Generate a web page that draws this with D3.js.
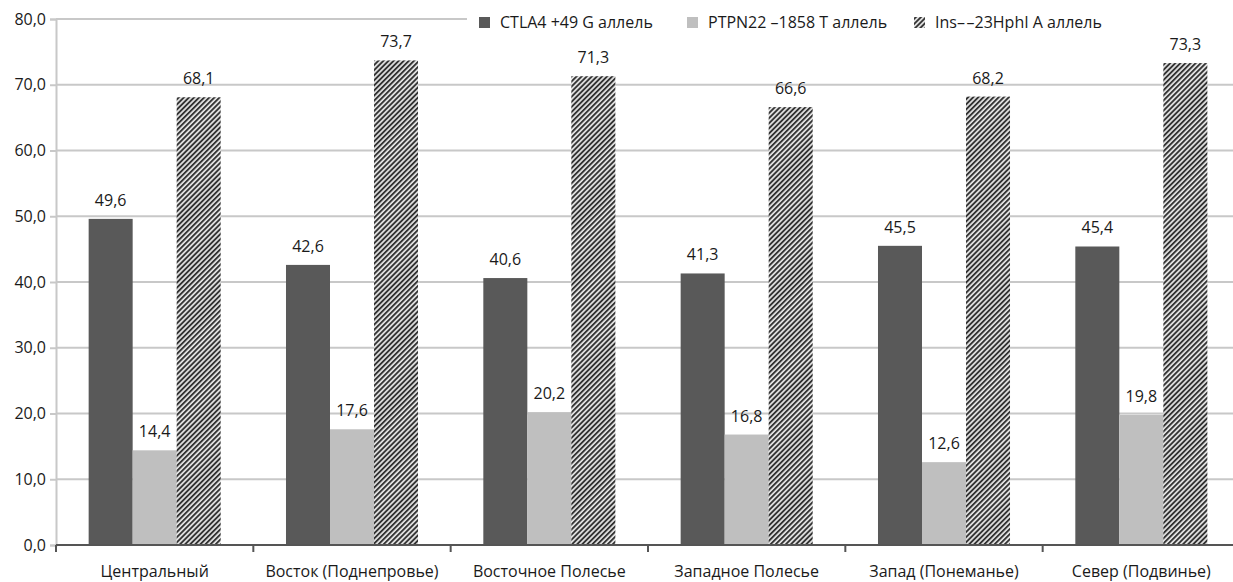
<!DOCTYPE html>
<html><head><meta charset="utf-8">
<script src="https://cdn.jsdelivr.net/npm/d3@7"></script>
<style>body{margin:0;background:#fff}svg{display:block}</style>
</head><body><svg id="c" width="1233" height="582"></svg>
<script>
const categories = ["Центральный","Восток (Поднепровье)","Восточное Полесье","Западное Полесье","Запад (Понеманье)","Север (Подвинье)"];
const seriesNames = ["CTLA4 +49 G аллель","PTPN22 –1858 T аллель","Ins–\u200A–23HphI A аллель"];
const ctla4 = [49.6,42.6,40.6,41.3,45.5,45.4];
const ptpn22 = [14.4,17.6,20.2,16.8,12.6,19.8];
const ins = [68.1,73.7,71.3,66.6,68.2,73.3];
const yTicks = [0,10,20,30,40,50,60,70,80];

const series = [ctla4, ptpn22, ins];
const svg = d3.select("#c");
const font = "'Open Sans', sans-serif";
const mLeft = 56, mRight = 1240, mTop = 19, mBottom = 545;

const defs = svg.append("defs");
const pat = defs.append("pattern").attr("id","hatch").attr("patternUnits","userSpaceOnUse")
  .attr("width",3.6).attr("height",3.6).attr("patternTransform","rotate(45)");
pat.append("rect").attr("width",3.6).attr("height",3.6).attr("fill","#e6e6e6");
pat.append("rect").attr("width",1.9).attr("height",3.6).attr("fill","#333");

const x = d3.scaleBand().domain(categories).range([mLeft,mRight]).paddingInner(0).paddingOuter(0);
const xs = d3.scaleBand().domain([0,1,2]).range([0,x.bandwidth()]).paddingInner(0).paddingOuter(0.742);
const y = d3.scaleLinear().domain([0,80]).range([mBottom,mTop]);

// gridlines
svg.append("g").selectAll("line").data(yTicks.filter(d=>d>0)).join("line")
  .attr("x1",mLeft).attr("x2",mRight).attr("y1",d=>y(d)).attr("y2",d=>y(d))
  .attr("stroke","#c8c8c8").attr("stroke-width",2);

// y axis
const yAxis = svg.append("g").attr("transform",`translate(${mLeft},0)`)
  .call(d3.axisLeft(y).tickValues(yTicks).tickSize(6).tickPadding(4).tickFormat(d=>d3.format(".1f")(d).replace(".",",")));
yAxis.select(".domain").attr("stroke","#c8c8c8").attr("stroke-width",2);
yAxis.selectAll(".tick line").attr("stroke","#c8c8c8").attr("stroke-width",2);
yAxis.selectAll("text").attr("font-family",font).attr("font-size",16).attr("fill","#1a1a1a");

const fills = ["#595959","#bfbfbf","url(#hatch)"];
const g = svg.append("g");
series.forEach((vals,si)=>{
  g.selectAll(null).data(vals).join("rect")
    .attr("x",(d,i)=>x(categories[i])+xs(si))
    .attr("width",xs.bandwidth())
    .attr("y",d=>y(d)).attr("height",d=>y(0)-y(d))
    .attr("fill",fills[si]);
  g.selectAll(null).data(vals).join("text")
    .attr("x",(d,i)=>x(categories[i])+xs(si)+xs.bandwidth()/2)
    .attr("y",d=>y(d)-13)
    .attr("text-anchor","middle").attr("font-family",font).attr("font-size",16).attr("fill","#1a1a1a")
    .text(d=>d3.format(".1f")(d).replace(".",","));
});

// x axis
const xAxis = svg.append("g").attr("transform",`translate(0,${mBottom})`);
xAxis.append("line").attr("x1",mLeft).attr("x2",mRight).attr("stroke","#555").attr("stroke-width",2);
xAxis.selectAll(".tk").data(categories.concat([null])).join("line")
  .attr("x1",(d,i)=>mLeft+i*x.bandwidth()).attr("x2",(d,i)=>mLeft+i*x.bandwidth())
  .attr("y1",0).attr("y2",7).attr("stroke","#555").attr("stroke-width",2);
xAxis.selectAll("text").data(categories).join("text")
  .attr("x",d=>x(d)+x.bandwidth()/2).attr("y",32)
  .attr("text-anchor","middle").attr("font-family",font).attr("font-size",16).attr("fill","#1a1a1a")
  .text(d=>d);

// legend
const lg = svg.append("g");
lg.append("rect").attr("x",467).attr("y",7).attr("width",780).attr("height",26).attr("fill","#fff");
const lx = [479,687,914];
seriesNames.forEach((n,i)=>{
  lg.append("rect").attr("x",lx[i]).attr("y",17).attr("width",11).attr("height",11).attr("fill",fills[i]);
  lg.append("text").attr("x",lx[i]+21).attr("y",28).attr("font-family",font).attr("font-size",16).attr("fill","#1a1a1a").text(n);
});
</script></body></html>
